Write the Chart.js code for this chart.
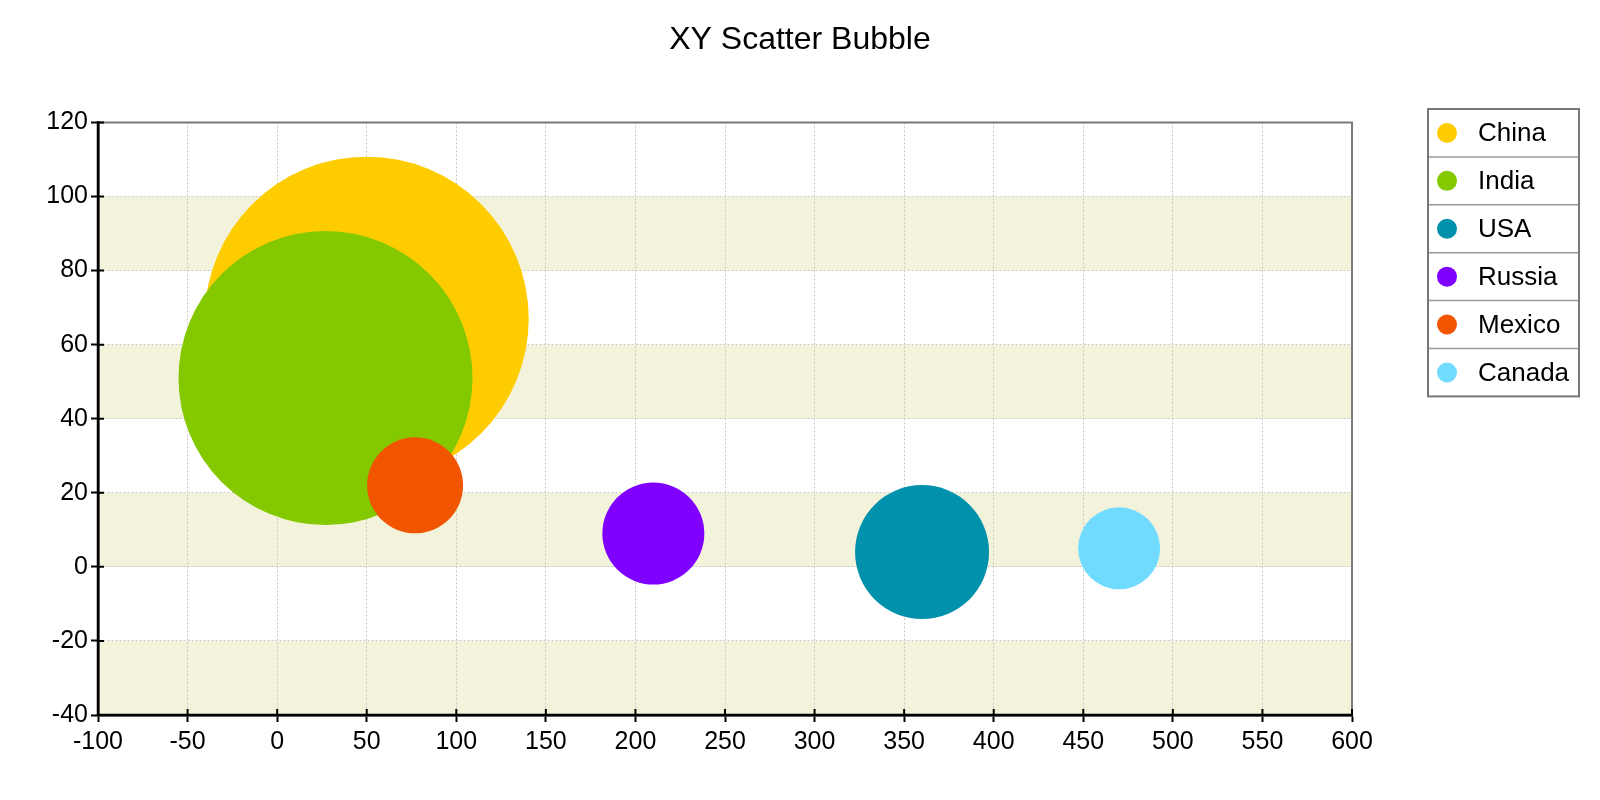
<!DOCTYPE html>
<html>
<head>
<meta charset="utf-8">
<script src="https://cdn.jsdelivr.net/npm/chart.js@4/dist/chart.umd.min.js"></script>
<style>
  html, body { margin: 0; padding: 0; background: #ffffff; }
  #wrap { width: 1600px; height: 800px; }
</style>
</head>
<body>
<div id="wrap"><canvas id="c" width="1600" height="800"></canvas></div>
<script>
// ---- data ----
const chartTitle = 'XY Scatter Bubble';
const countries = ['China', 'India', 'USA', 'Russia', 'Mexico', 'Canada'];
const xValues = [50, 27, 360, 210, 77, 470];
const yValues = [67, 51, 4, 9, 22, 5];
const bubbleSizes = [162, 147, 67, 51, 48, 41];
const colors = ['#ffcc00', '#84c800', '#0091ac', '#8000ff', '#f25500', '#70dbff'];
const xMin = -100, xMax = 600, xStep = 50;
const yMin = -40, yMax = 120, yStep = 20;
const bandRanges = [[-40, -20], [0, 20], [40, 60], [80, 100]];

const datasets = countries.map((name, i) => ({
  label: name,
  data: [{ x: xValues[i], y: yValues[i], r: bubbleSizes[i] }],
  backgroundColor: colors[i],
  hoverBackgroundColor: colors[i],
  borderWidth: 0,
  hoverBorderWidth: 0,
  hoverRadius: 0,
  order: -i
}));

const FONT = "'Liberation Sans', Arial, sans-serif";

const bandsPlugin = {
  id: 'bands',
  beforeDraw(chart) {
    const { ctx, chartArea: a, scales } = chart;
    ctx.save();
    ctx.fillStyle = '#ffffff';
    ctx.fillRect(0, 0, chart.width, chart.height);
    ctx.fillStyle = '#f3f3dc';
    bandRanges.forEach(([lo, hi]) => {
      const y1 = scales.y.getPixelForValue(hi);
      const y2 = scales.y.getPixelForValue(lo);
      ctx.fillRect(a.left, y1, a.right - a.left, y2 - y1);
    });
    ctx.restore();
  }
};

const framePlugin = {
  id: 'frame',
  afterDatasetsDraw(chart) {
    const { ctx, chartArea: a, scales } = chart;
    ctx.save();
    ctx.strokeStyle = '#7a7a7a';
    ctx.lineWidth = 2;
    ctx.beginPath();
    ctx.moveTo(a.left, a.top);
    ctx.lineTo(a.right, a.top);
    ctx.lineTo(a.right, a.bottom);
    ctx.stroke();
    // inner tick parts
    ctx.strokeStyle = '#000000';
    ctx.lineWidth = 2;
    ctx.beginPath();
    scales.x.ticks.forEach(t => {
      const px = scales.x.getPixelForValue(t.value);
      ctx.moveTo(px, a.bottom);
      ctx.lineTo(px, a.bottom - 6);
    });
    scales.y.ticks.forEach(t => {
      const py = scales.y.getPixelForValue(t.value);
      ctx.moveTo(a.left, py);
      ctx.lineTo(a.left + 6, py);
    });
    ctx.stroke();
    // axis lines on top
    ctx.lineWidth = 2.5;
    ctx.beginPath();
    ctx.moveTo(a.left, a.top);
    ctx.lineTo(a.left, a.bottom);
    ctx.lineTo(a.right, a.bottom);
    ctx.stroke();
    ctx.restore();
  }
};

const boxLegendPlugin = {
  id: 'boxLegend',
  afterDraw(chart) {
    const { ctx } = chart;
    const left = 1428, top = 109, width = 151, rowH = 47.9;
    const items = chart.data.datasets;
    const height = rowH * items.length;
    ctx.save();
    ctx.fillStyle = '#ffffff';
    ctx.fillRect(left, top, width, height);
    ctx.strokeStyle = '#999999';
    ctx.lineWidth = 1.5;
    ctx.beginPath();
    for (let i = 1; i < items.length; i++) {
      const y = top + rowH * i;
      ctx.moveTo(left, y);
      ctx.lineTo(left + width, y);
    }
    ctx.stroke();
    ctx.strokeStyle = '#777777';
    ctx.lineWidth = 2;
    ctx.strokeRect(left, top, width, height);
    ctx.font = '26px ' + FONT;
    ctx.textBaseline = 'middle';
    ctx.textAlign = 'left';
    items.forEach((ds, i) => {
      const cy = top + rowH * i + rowH / 2;
      ctx.fillStyle = ds.backgroundColor;
      ctx.beginPath();
      ctx.arc(left + 19, cy, 10, 0, Math.PI * 2);
      ctx.fill();
      ctx.fillStyle = '#000000';
      ctx.fillText(ds.label, left + 50, cy + 1);
    });
    ctx.restore();
  }
};

new Chart(document.getElementById('c'), {
  type: 'bubble',
  data: { datasets },
  plugins: [bandsPlugin, framePlugin, boxLegendPlugin],
  options: {
    responsive: false,
    animation: false,
    devicePixelRatio: 1,
    layout: { autoPadding: false, padding: { left: 0, right: 0, top: 0, bottom: 0 } },
    plugins: {
      legend: { display: false },
      tooltip: { enabled: false },
      title: {
        display: true,
        text: chartTitle,
        color: '#000000',
        font: { family: FONT, size: 32, weight: 'normal' },
        padding: { top: 21, bottom: 63 }
      }
    },
    scales: {
      x: {
        type: 'linear',
        min: xMin, max: xMax,
        afterFit(scale) { scale.height = 85; },
        ticks: { stepSize: xStep, color: '#000000', padding: 5, font: { family: FONT, size: 25 } },
        grid: { color: '#c8c8c8', lineWidth: 1, drawTicks: true, tickLength: 7, tickColor: '#000000', tickWidth: 2, tickBorderDash: [] },
        border: { display: true, color: '#000000', width: 2.5, dash: [2, 2] }
      },
      y: {
        type: 'linear',
        min: yMin, max: yMax,
        afterFit(scale) { scale.width = 98; },
        ticks: { stepSize: yStep, color: '#000000', padding: 3, font: { family: FONT, size: 25 } },
        grid: { color: '#c8c8c8', lineWidth: 1, drawTicks: true, tickLength: 7, tickColor: '#000000', tickWidth: 2, tickBorderDash: [] },
        border: { display: true, color: '#000000', width: 2.5, dash: [2, 2] }
      },
      legendSpace: {
        type: 'linear',
        position: 'right',
        display: true,
        afterFit(scale) { scale.width = 248; },
        ticks: { display: false },
        grid: { display: false, drawTicks: false },
        border: { display: false }
      }
    }
  }
});
</script>
</body>
</html>
